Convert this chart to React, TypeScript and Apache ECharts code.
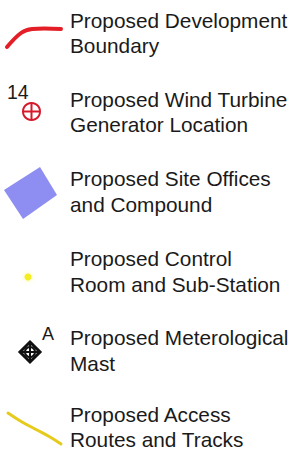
import React, { useEffect, useRef } from "react";
import * as echarts from "echarts";

const line1Labels = [
  "Proposed Development",
  "Proposed Wind Turbine",
  "Proposed Site Offices",
  "Proposed Control",
  "Proposed Meterological",
  "Proposed Access",
];
const line2Labels = [
  "Boundary",
  "Generator Location",
  "and Compound",
  "Room and Sub-Station",
  "Mast",
  "Routes and Tracks",
];
const turbineId = "14";
const mastId = "A";

const FONT = "'Liberation Sans', Arial, sans-serif";
const FS = 20.8;
const TEXT_X = 70;
const BASE1 = [27.5, 106.5, 186, 266, 345, 421.5];
const LINE_GAP = 25.5;
const CENTRAL = 0.3465;

export default function App() {
  const ref = useRef<HTMLDivElement>(null);
  useEffect(() => {
    if (!ref.current) return;
    const chart = echarts.init(ref.current, undefined, { renderer: "svg" });
    const texts: any[] = [];
    line1Labels.forEach((t, i) => {
      texts.push({
        type: "text",
        x: TEXT_X,
        y: BASE1[i] - CENTRAL * FS,
        style: { text: t, font: `${FS}px ${FONT}`, fill: "#1a1a1a", verticalAlign: "middle", align: "left", lineHeight: 18 },
      });
      texts.push({
        type: "text",
        x: TEXT_X,
        y: BASE1[i] + LINE_GAP - CENTRAL * FS,
        style: { text: line2Labels[i], font: `${FS}px ${FONT}`, fill: "#1a1a1a", verticalAlign: "middle", align: "left", lineHeight: 18 },
      });
    });

    const red = "#e41e26";
    const turbineRed = "#d61a2c";
    const graphic: any[] = [
      ...texts,
      // development boundary
      {
        type: "polyline",
        shape: { points: [[7, 47], [21, 33], [32, 29], [61, 29]], smooth: 0.35 },
        style: { stroke: red, lineWidth: 4, lineCap: "round", fill: null },
      },
      // turbine
      {
        type: "text",
        x: 7,
        y: 98.5 - CENTRAL * 19.5,
        style: { text: turbineId, font: `19.5px ${FONT}`, fill: "#1a1a1a", verticalAlign: "middle", align: "left" },
      },
      { type: "circle", shape: { cx: 31.5, cy: 111.5, r: 8.5 }, style: { stroke: turbineRed, lineWidth: 2, fill: null } },
      { type: "line", shape: { x1: 23, y1: 111.5, x2: 40, y2: 111.5 }, style: { stroke: turbineRed, lineWidth: 2 } },
      { type: "line", shape: { x1: 31.5, y1: 103, x2: 31.5, y2: 120 }, style: { stroke: turbineRed, lineWidth: 2 } },
      // site offices
      {
        type: "polygon",
        shape: { points: [[40, 167], [57, 195], [23, 219], [4, 190]] },
        style: { fill: "#8e8ef2" },
      },
      // control room
      { type: "circle", shape: { cx: 28, cy: 277, r: 3.5 }, style: { fill: "#f2ee22", shadowBlur: 4, shadowColor: "rgba(240,235,40,0.5)" } },
      // met mast
      {
        type: "polygon",
        shape: { points: [[30, 342], [40, 352], [30, 362], [20, 352]] },
        style: { stroke: "#111", lineWidth: 3, fill: "#fff", lineJoin: "miter" },
      },
      { type: "circle", shape: { cx: 30, cy: 352, r: 5 }, style: { stroke: "#111", lineWidth: 2, fill: null } },
      { type: "line", shape: { x1: 21, y1: 352, x2: 39, y2: 352 }, style: { stroke: "#111", lineWidth: 2 } },
      { type: "line", shape: { x1: 30, y1: 343, x2: 30, y2: 361 }, style: { stroke: "#111", lineWidth: 2 } },
      {
        type: "text",
        x: 48,
        y: 340.5 - CENTRAL * 18,
        style: { text: mastId, font: `18px ${FONT}`, fill: "#1a1a1a", verticalAlign: "middle", align: "center" },
      },
      // access routes
      {
        type: "polyline",
        shape: { points: [[8, 413], [22, 422], [37, 430], [50, 437], [61, 444]], smooth: 0.4 },
        style: { stroke: "#e6cb1c", lineWidth: 3, lineCap: "round", fill: null },
      },
    ];

    chart.setOption({ animation: false, backgroundColor: "#ffffff", graphic });
    return () => chart.dispose();
  }, []);
  return <div ref={ref} style={{ position: "absolute", left: 0, top: 0, width: 295, height: 451 }} />;
}
